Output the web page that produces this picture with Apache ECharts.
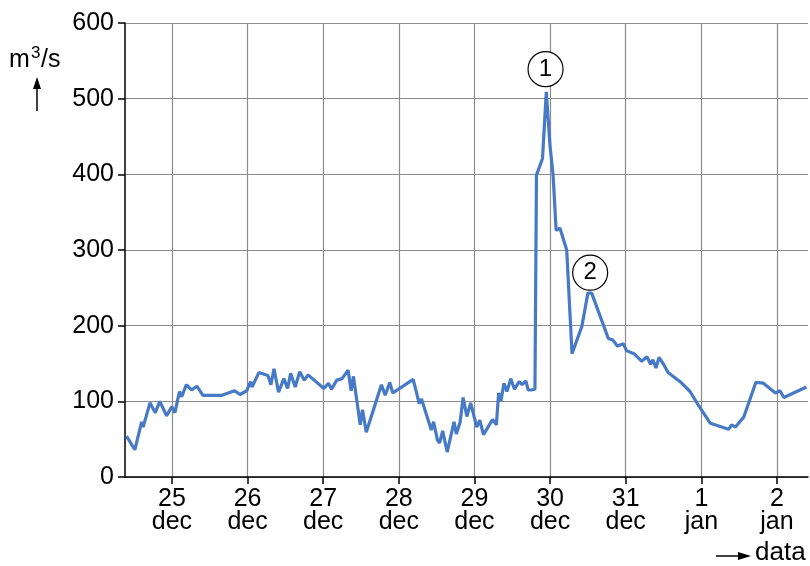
<!DOCTYPE html>
<html>
<head>
<meta charset="utf-8">
<script src="https://cdn.jsdelivr.net/npm/echarts@6/dist/echarts.min.js"></script>
<style>html,body{margin:0;padding:0;background:#fff}#c{width:810px;height:566px}</style>
</head>
<body>
<div id="c"></div>
<script>
// x in days (25 = 25 dec, 32 = 1 jan, 33 = 2 jan)
const days = [24.40,24.51,24.60,24.62,24.71,24.78,24.84,24.93,25.00,25.04,25.10,25.13,25.19,25.26,25.33,25.41,25.66,25.83,25.90,25.99,
26.04,26.06,26.15,26.27,26.31,26.35,26.41,26.48,26.53,26.57,26.63,26.69,26.75,26.80,27.01,27.07,27.11,27.18,27.25,27.33,27.37,27.40,
27.49,27.52,27.57,27.77,27.82,27.88,27.92,28.19,28.27,28.30,28.43,28.46,28.51,28.54,28.58,28.64,28.73,28.76,28.81,28.85,28.90,28.95,
29.03,29.07,29.12,29.24,29.29,29.32,29.35,29.39,29.43,29.48,29.53,29.59,29.63,29.68,29.71,29.75,29.80,29.82,29.90,29.95,30.00,30.04,
30.08,30.13,30.22,30.29,30.42,30.50,30.55,30.77,30.83,30.89,30.97,31.01,31.11,31.21,31.28,31.33,31.36,31.40,31.44,31.50,31.56,31.72,
31.85,31.96,32.12,32.36,32.40,32.45,32.56,32.72,32.82,32.98,33.04,33.09,33.39];
const flow = [54,36,73,66,98,85,100,81,93,85,113,106,122,115,120,108,108,114,109,114,
126,119,138,134,122,143,112,130,117,137,119,139,128,135,117,124,116,128,130,141,114,133,
69,89,59,122,108,125,111,129,97,103,62,73,49,45,61,33,73,57,72,105,80,98,
66,75,56,76,69,111,100,124,113,130,116,126,122,127,115,115,116,399,421,509,437,399,
326,329,300,163,199,243,243,183,181,173,176,167,163,153,159,149,155,144,158,149,138,126,
113,95,71,63,69,66,79,125,124,111,114,105,119];
const tickDays = [25,26,27,28,29,30,31,32,33];
const tickLabels = ['25\ndec','26\ndec','27\ndec','28\ndec','29\ndec','30\ndec','31\ndec','1\njan','2\njan'];
const yTicks = [0,100,200,300,400,500,600];
const peaks = [{name:'1', x:29.94, y:539},{name:'2', x:30.53, y:270}];

const FONT = "'Liberation Sans', Arial, sans-serif";
const chart = echarts.init(document.getElementById('c'), null, {renderer:'canvas'});
const labelMap = {};
tickDays.forEach((d,i)=>labelMap[d]=tickLabels[i]);

chart.setOption({
  animation:false,
  backgroundColor:'#fff',
  grid:{left:125,right:2,top:23,bottom:89,containLabel:false},
  xAxis:{
    type:'value', min:24.38, max:33.41,
    axisLine:{show:true,lineStyle:{color:'#000',width:1.5}},
    axisTick:{show:true,length:7,inside:false,customValues:tickDays,lineStyle:{color:'#000',width:1.5}},
    axisLabel:{customValues:tickDays,formatter:v=>labelMap[Math.round(v)]||'',
      color:'#000',fontFamily:FONT,fontSize:25,lineHeight:23,margin:11},
    splitLine:{show:true,lineStyle:{color:'#8c8c8c',width:1.2}}
  },
  yAxis:{
    type:'value', min:0, max:600, interval:100,
    axisLine:{show:true,lineStyle:{color:'#000',width:1.5}},
    axisTick:{show:true,length:7,lineStyle:{color:'#000',width:1.5}},
    axisLabel:{color:'#000',fontFamily:FONT,fontSize:25,margin:11},
    splitLine:{show:true,lineStyle:{color:'#8c8c8c',width:1.2}}
  },
  series:[{
    type:'line',
    data:days.map((d,i)=>[d,flow[i]]),
    symbol:'none',
    lineStyle:{color:'#4679c6',width:3.2},
    itemStyle:{color:'#4679c6'},
    clip:true,
    markPoint:{
      symbol:'circle', symbolSize:35,
      itemStyle:{color:'#fff',borderColor:'#000',borderWidth:1.2},
      label:{show:true,position:'inside',color:'#000',fontFamily:FONT,fontSize:24,formatter:p=>p.name},
      data:peaks.map(p=>({name:p.name,coord:[p.x,p.y]}))
    }
  }],
  graphic:[
    {type:'text',left:9,top:48,style:{text:'m',font:"25px "+FONT,fill:'#000'}},
    {type:'text',left:31,top:45,style:{text:'3',font:"17px "+FONT,fill:'#000'}},
    {type:'text',left:41,top:48,style:{text:'/s',font:"25px "+FONT,fill:'#000'}},
    {type:'line',shape:{x1:37,y1:111,x2:37,y2:84},style:{stroke:'#000',lineWidth:1.5}},
    {type:'polygon',shape:{points:[[33,89],[37,77],[41,89]]},style:{fill:'#000'}},
    {type:'line',shape:{x1:716,y1:556,x2:742,y2:556},style:{stroke:'#000',lineWidth:1.5}},
    {type:'polygon',shape:{points:[[738,552],[751,556],[738,560]]},style:{fill:'#000'}},
    {type:'text',left:755,top:540,style:{text:'data',font:"26px "+FONT,fill:'#000'}}
  ]
});
</script>
</body>
</html>
